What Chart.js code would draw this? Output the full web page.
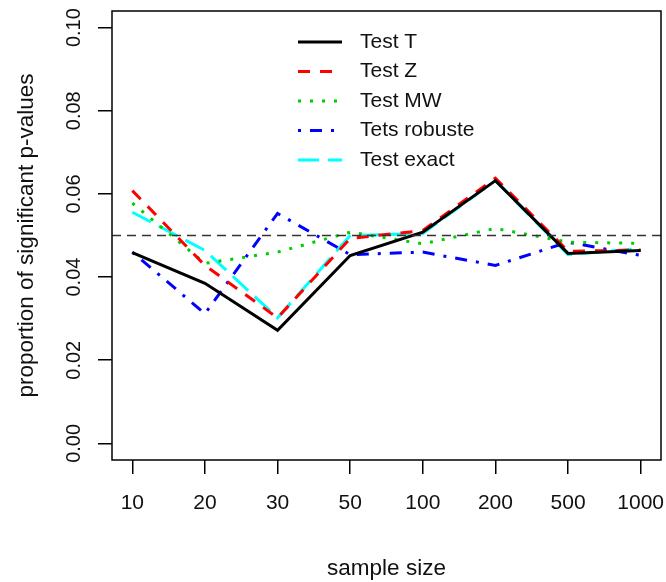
<!DOCTYPE html>
<html>
<head>
<meta charset="utf-8">
<script src="https://cdn.jsdelivr.net/npm/chart.js@4.4.0/dist/chart.umd.min.js"></script>
<style>
  html, body { margin: 0; padding: 0; background: #fff; }
</style>
</head>
<body>
<canvas id="pvalChart" width="666" height="582"></canvas>
<script>
const sampleSizes = ['10', '20', '30', '50', '100', '200', '500', '1000'];
const yTickValues = [0, 0.02, 0.04, 0.06, 0.08, 0.10];
const refLevel = 0.05;

const testT       = [0.0459, 0.0385, 0.0272, 0.0452, 0.0508, 0.0632, 0.0457, 0.0464];
const testZ       = [0.0608, 0.0428, 0.0302, 0.0493, 0.0512, 0.0638, 0.0462, 0.0465];
const testMW      = [0.0578, 0.0433, 0.0460, 0.0508, 0.0480, 0.0517, 0.0484, 0.0481];
const testRobuste = [0.0460, 0.0312, 0.0553, 0.0454, 0.0460, 0.0428, 0.0484, 0.0452];
const testExact   = [0.0556, 0.0464, 0.0302, 0.0500, 0.0505, 0.0632, 0.0454, 0.0469];

const FONT = '"Liberation Sans", Arial, sans-serif';
const pts = (vals) => vals.map((v, i) => ({ x: i + 1, y: v }));

// R style box round the plot region
const boxPlugin = {
    id: 'rBox',
    afterDraw(chart) {
        const { ctx, chartArea: a } = chart;
        ctx.save();
        ctx.strokeStyle = '#000';
        ctx.lineWidth = 1.5;
        ctx.strokeRect(a.left, a.top, a.right - a.left, a.bottom - a.top);
        ctx.restore();
    }
};

// legend drawn the way R's legend() lays it out, taking styles from the datasets
const legendPlugin = {
    id: 'rLegend',
    afterDatasetsDraw(chart) {
        const { ctx, chartArea: a } = chart;
        const items = chart.data.datasets.filter((d) => d.label);
        ctx.save();
        ctx.font = '21px ' + FONT;
        ctx.textBaseline = 'middle';
        items.forEach((d, i) => {
            const y = a.top + 31 + i * 29.5;
            ctx.strokeStyle = d.borderColor;
            ctx.lineWidth = d.borderWidth;
            ctx.setLineDash(d.borderDash || []);
            ctx.beginPath();
            ctx.moveTo(a.left + 186, y);
            ctx.lineTo(a.left + 230, y);
            ctx.stroke();
            ctx.fillStyle = '#111';
            ctx.fillText(d.label, a.left + 248, y);
        });
        ctx.restore();
    }
};

const line = (label, data, color, dash) => ({
    label, data: pts(data), borderColor: color, backgroundColor: color,
    borderWidth: 3, borderDash: dash, pointRadius: 0, tension: 0, fill: false
});

new Chart(document.getElementById('pvalChart'), {
    type: 'line',
    data: {
        datasets: [
            {
                label: '', data: [{ x: 0.72, y: refLevel }, { x: 8.28, y: refLevel }],
                borderColor: '#333', borderWidth: 1.5, borderDash: [9, 6], pointRadius: 0
            },
            line('Test T', testT, '#000000', []),
            line('Test Z', testZ, '#ff0000', [12, 10]),
            line('Test MW', testMW, '#00cd00', [3, 9]),
            line('Tets robuste', testRobuste, '#0000ff', [3, 9, 12, 9]),
            line('Test exact', testExact, '#00ffff', [21, 9])
        ]
    },
    options: {
        responsive: false,
        animation: false,
        layout: { padding: { left: 0, right: 5, top: 11, bottom: 0 } },
        plugins: { legend: { display: false }, tooltip: { enabled: false } },
        scales: {
            x: {
                type: 'linear', min: 0.72, max: 8.28,
                afterBuildTicks: (s) => { s.ticks = sampleSizes.map((_, i) => ({ value: i + 1 })); },
                afterFit: (s) => { s.height = 122; s.paddingLeft = 0; s.paddingRight = 0; },
                ticks: {
                    callback: (v) => sampleSizes[Math.round(v) - 1],
                    font: { family: FONT, size: 21 }, color: '#111', padding: 17,
                    maxRotation: 0, autoSkip: false
                },
                grid: { drawOnChartArea: false, drawTicks: true, tickLength: 14, color: '#000', lineWidth: 1.5 },
                border: { display: false },
                title: {
                    display: true, text: 'sample size', color: '#111',
                    font: { family: FONT, size: 22.5 }, padding: { top: 1, bottom: 0 }
                }
            },
            y: {
                type: 'linear', min: -0.004, max: 0.104,
                afterBuildTicks: (s) => { s.ticks = yTickValues.map((v) => ({ value: v })); },
                afterFit: (s) => { s.width = 112; s.paddingTop = 0; s.paddingBottom = 0; },
                ticks: {
                    callback: (v) => v.toFixed(2),
                    font: { family: FONT, size: 20 }, color: '#111', padding: 4,
                    minRotation: 90, maxRotation: 90, crossAlign: 'center', autoSkip: false
                },
                grid: { drawOnChartArea: false, drawTicks: true, tickLength: 14, color: '#000', lineWidth: 1.5 },
                border: { display: false },
                title: {
                    display: true, text: 'proportion of significant p-values', color: '#111',
                    font: { family: FONT, size: 22.5 }, padding: { top: 13, bottom: 0 }
                }
            }
        }
    },
    plugins: [boxPlugin, legendPlugin]
});
</script>
</body>
</html>
